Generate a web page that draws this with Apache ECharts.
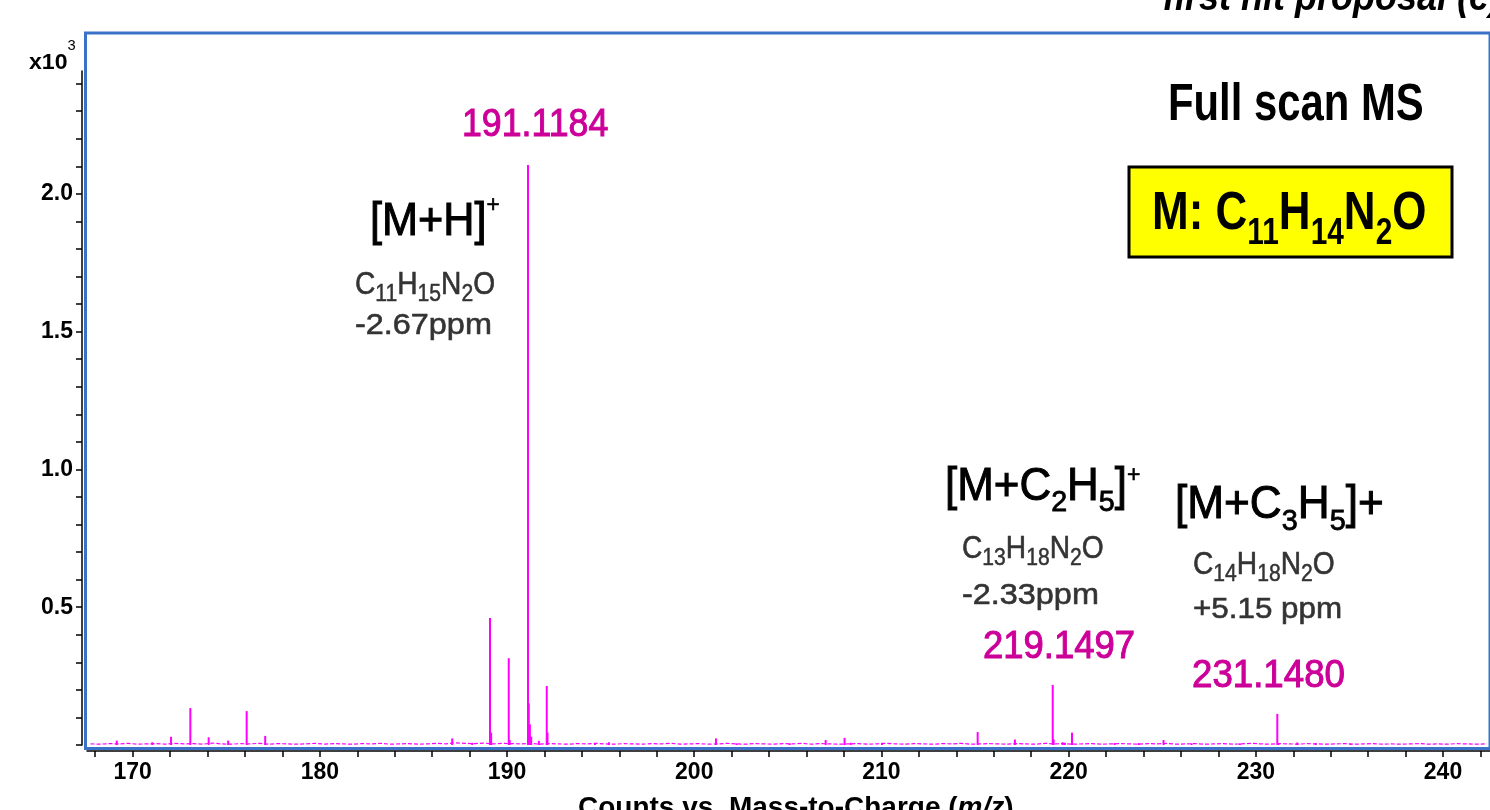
<!DOCTYPE html>
<html><head><meta charset="utf-8">
<script src="https://cdn.jsdelivr.net/npm/echarts@6/dist/echarts.min.js"></script>
<style>html,body{margin:0;padding:0;background:#fff}#c{width:1490px;height:810px}</style>
</head><body><div id="c"></div>
<script>
// ---- data (intensity in counts x10^3) ----
const peakMz = [169.15, 171.05, 172.05, 173.08, 174.06, 175.10, 176.09, 177.08, 187.07, 188.14,
  189.09, 189.15, 190.09, 190.14, 191.1184, 191.16, 191.22, 191.29, 191.70, 192.12, 192.16,
  194.70, 195.44, 201.16, 202.26, 205.10, 207.02, 208.03, 208.35, 210.03, 215.14, 217.13,
  219.1497, 219.20, 219.68, 219.80, 220.18, 222.46, 223.74, 225.07, 226.57, 229.15,
  231.1480, 231.20, 232.21, 233.20, 235.06];
const peakInt = [0.016, 0.010, 0.030, 0.134, 0.028, 0.016, 0.123, 0.033, 0.024, 0.008,
  0.461, 0.045, 0.315, 0.018, 2.105, 0.151, 0.075, 0.030, 0.015, 0.214, 0.045,
  0.008, 0.010, 0.024, 0.006, 0.006, 0.018, 0.026, 0.008, 0.008, 0.047, 0.020,
  0.218, 0.020, 0.010, 0.008, 0.045, 0.007, 0.007, 0.018, 0.006, 0.006,
  0.113, 0.006, 0.009, 0.007, 0.005];
const noiseStart = 167.75;
const noiseStep = 0.5;
const noiseInt = [
  0.004,0.003,0.005,0.004,0.006,0.003,0.004,0.005,0.003,0.006,
  0.004,0.005,0.003,0.007,0.004,0.003,0.005,0.004,0.006,0.003,
  0.005,0.004,0.003,0.004,0.006,0.003,0.005,0.004,0.003,0.005,
  0.004,0.006,0.003,0.004,0.005,0.003,0.004,0.006,0.004,0.008,
  0.006,0.005,0.007,0.004,0.006,0.005,0.004,0.006,0.003,0.005,
  0.004,0.003,0.005,0.004,0.006,0.004,0.003,0.005,0.004,0.003,
  0.005,0.004,0.006,0.003,0.004,0.005,0.003,0.004,0.006,0.004,
  0.003,0.005,0.004,0.003,0.005,0.004,0.006,0.003,0.005,0.004,
  0.003,0.004,0.005,0.003,0.004,0.006,0.004,0.003,0.005,0.004,
  0.003,0.005,0.004,0.006,0.003,0.004,0.005,0.004,0.003,0.005,
  0.004,0.003,0.006,0.004,0.005,0.003,0.004,0.005,0.003,0.004,
  0.005,0.004,0.003,0.005,0.004,0.006,0.003,0.004,0.005,0.003,
  0.004,0.005,0.003,0.004,0.006,0.004,0.003,0.005,0.004,0.003,
  0.005,0.004,0.003,0.004,0.005,0.003,0.004,0.005,0.003,0.004,
  0.003,0.004,0.005,0.003,0.004,0.003,0.005,0.004,0.003,0.004];
const xTickValues = [168,170,172,174,176,178,180,182,184,186,188,190,192,194,196,198,200,202,204,206,
  208,210,212,214,216,218,220,222,224,226,228,230,232,234,236,238,240,242];
const xLabelValues = [170,180,190,200,210,220,230,240];
const yTickValues = [0,0.1,0.2,0.3,0.4,0.5,0.6,0.7,0.8,0.9,1.0,1.1,1.2,1.3,1.4,1.5,1.6,1.7,1.8,1.9,2.0,2.1,2.2,2.3,2.4];
const yLabelValues = [0.5,1.0,1.5,2.0];
const xRange = [167.56, 242.51];
const yRange = [0, 2.446];

// ---- styles ----
const ARIAL = "'Liberation Sans',Arial,sans-serif";
const MAG = '#ff00ff';
const LBL = '#cc0099';
const GRAY = '#333333';
const LH = 60; // common line box for rich labels; main glyphs centred at top + LH/2
function rs(size, opt) {
  return Object.assign({fontSize: size, fontFamily: ARIAL, lineHeight: LH, fill: '#000'}, opt || {});
}
function heavy(color, w) { return {fill: color, stroke: color, lineWidth: w}; }
function sub(size, drop, opt) { return rs(size, Object.assign({padding: [2 * drop, 0, 0, 0]}, opt || {})); }
function sup(size, rise, opt) { return rs(size, Object.assign({padding: [0, 0, 2 * rise, 0]}, opt || {})); }
function txt(x, y, style, sx) {
  return {type: 'text', x: x, y: y, scaleX: sx || 1, z: 100, style: style};
}
// rich text whose main glyphs are centred on cy
function rich(x, cy, text, richStyles, sx) {
  return txt(x, cy - LH / 2, {text: text, align: 'left', verticalAlign: 'top', rich: richStyles}, sx);
}
function plain(x, y, text, size, color, sx, w, extra) {
  return txt(x, y, Object.assign({text: text, fontSize: size, fontFamily: ARIAL,
    align: 'left', verticalAlign: 'middle'}, heavy(color, w || 0), extra || {}), sx);
}
function formula(x, cy, text, color) {
  return rich(x, cy, text, {m: rs(32, heavy(color, 0.6)), s: sub(24, 9, heavy(color, 0.5))}, 0.88);
}

const noiseData = noiseInt.map((v, i) => [noiseStart + i * noiseStep, v]);
const peakData = peakMz.map((m, i) => [m, peakInt[i]]);

const graphics = [
  // cut-off slide title
  plain(1163, -1, 'first hit proposal (e)', 40, '#000', 0.9, 0, {fontWeight: 'bold', fontStyle: 'italic'}),
  // x10^3
  rich(29, 62.5, '{m|x10}{s|3}', {m: rs(22, {fontWeight: 'bold'}), s: sup(14, 16)}, 1.05),
  // Full scan MS
  plain(1168, 106, 'Full scan MS', 51, '#000', 0.82, 0, {fontWeight: 'bold'}),
  // yellow box
  {type: 'rect', z: 90, shape: {x: 1129, y: 167, width: 323, height: 90},
   style: {fill: '#ffff00', stroke: '#000', lineWidth: 3}},
  rich(1152, 214, '{m|M: C}{s|11}{m|H}{s|14}{m|N}{s|2}{m|O}',
    {m: rs(53, {fontWeight: 'bold'}), s: sub(36, 20, {fontWeight: 'bold'})}, 0.83),
  // [M+H]+
  plain(462, 125, '191.1184', 39, LBL, 0.916, 1),
  rich(370, 222, '{m|[M+H]}{p|+}', {m: rs(46, heavy('#000', 1)), p: sup(24, 17, heavy('#000', 0.6))}, 0.94),
  formula(355, 285, '{m|C}{s|11}{m|H}{s|15}{m|N}{s|2}{m|O}', GRAY),
  plain(355, 326, '-2.67ppm', 30, GRAY, 1.08, 0.6),
  // [M+C2H5]+
  rich(945, 487, '{m|[M+C}{s|2}{m|H}{s|5}{m|]}{p|+}',
    {m: rs(46, heavy('#000', 1)), s: sub(30, 16, heavy('#000', 0.8)), p: sup(24, 12, heavy('#000', 0.6))}, 0.955),
  formula(962, 549, '{m|C}{s|13}{m|H}{s|18}{m|N}{s|2}{m|O}', GRAY),
  plain(962, 596, '-2.33ppm', 30, GRAY, 1.08, 0.6),
  plain(983, 647, '219.1497', 39, LBL, 0.935, 1),
  // [M+C3H5]+
  rich(1175, 505, '{m|[M+C}{s|3}{m|H}{s|5}{m|]+}',
    {m: rs(46, heavy('#000', 1)), s: sub(30, 17, heavy('#000', 0.8))}, 0.96),
  formula(1193, 565, '{m|C}{s|14}{m|H}{s|18}{m|N}{s|2}{m|O}', GRAY),
  plain(1193, 610, '+5.15 ppm', 30, GRAY, 1.045, 0.6),
  plain(1192, 676, '231.1480', 39, LBL, 0.94, 1),
  // x axis title (cut off at bottom)
  txt(578, 808, {text: '{b|Counts vs. Mass-to-Charge (}{i|m/z}{b|)}', align: 'left', verticalAlign: 'middle',
    rich: {b: {fontSize: 28, fontFamily: ARIAL, fontWeight: 'bold', fill: '#000'},
           i: {fontSize: 28, fontFamily: ARIAL, fontWeight: 'bold', fontStyle: 'italic', fill: '#000'}}})
];

const chart = echarts.init(document.getElementById('c'), null, {renderer: 'canvas'});
chart.setOption({
  animation: false,
  backgroundColor: '#fff',
  grid: [
    {left: 85.5, top: 33, right: -20, bottom: 61.5, show: true, borderColor: '#3a72c8', borderWidth: 3, backgroundColor: 'transparent'},
    {left: 87, top: 71, right: 0, bottom: 65}
  ],
  xAxis: [
    {gridIndex: 0, type: 'value', show: false, min: 0, max: 1},
    {gridIndex: 1, type: 'value', min: xRange[0], max: xRange[1], position: 'bottom', offset: 6,
     splitLine: {show: false},
     axisLine: {show: true, onZero: false, lineStyle: {color: '#000', width: 1.5}},
     axisTick: {show: true, length: 6, customValues: xTickValues, lineStyle: {color: '#000', width: 1.5}},
     axisLabel: {customValues: xLabelValues, margin: 10, color: '#000', fontSize: 23, fontWeight: 'bold', fontFamily: ARIAL}}
  ],
  yAxis: [
    {gridIndex: 0, type: 'value', show: false, min: 0, max: 1},
    {gridIndex: 1, type: 'value', min: yRange[0], max: yRange[1], position: 'left', offset: 5,
     splitLine: {show: false},
     axisLine: {show: true, onZero: false, lineStyle: {color: '#000', width: 1.5}},
     axisTick: {show: true, length: 6, customValues: yTickValues, lineStyle: {color: '#000', width: 1.5}},
     axisLabel: {customValues: yLabelValues, margin: 9, color: '#000', fontSize: 23, fontWeight: 'bold', fontFamily: ARIAL,
       formatter: v => v.toFixed(1)}}
  ],
  series: [
    {type: 'line', xAxisIndex: 1, yAxisIndex: 1, data: noiseData, showSymbol: false, z: 2,
     lineStyle: {color: MAG, width: 1.2, type: [4, 2]}, silent: true},
    {type: 'bar', xAxisIndex: 1, yAxisIndex: 1, data: peakData, barWidth: 2, z: 3,
     itemStyle: {color: MAG}, silent: true}
  ],
  graphic: graphics
});
</script></body></html>
